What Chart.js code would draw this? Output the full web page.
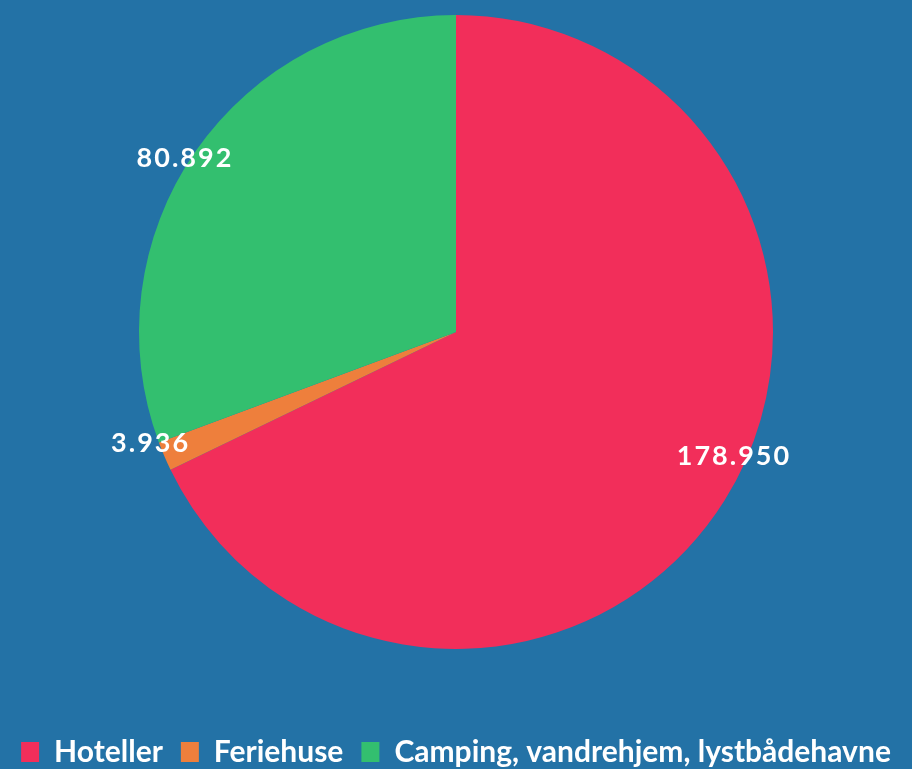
<!DOCTYPE html>
<html>
<head>
<meta charset="utf-8">
<script src="https://cdn.jsdelivr.net/npm/chart.js@4.4.1/dist/chart.umd.min.js"></script>
<style>
  html, body { margin: 0; padding: 0; background: #2372A6; overflow: hidden; width: 912px; height: 769px; }
  #wrap { position: relative; width: 912px; height: 777px; }
</style>
</head>
<body>
<div id="wrap"><canvas id="c"></canvas></div>
<script>
const categories = ['Hoteller', 'Feriehuse', 'Camping, vandrehjem, lystbådehavne'];
const values = [178950, 3936, 80892];
const valueLabels = ['178.950', '3.936', '80.892'];
const colors = ['#F22E5A', '#EE7F3C', '#33BF6F'];

const sliceLabels = {
  id: 'sliceLabels',
  afterDatasetsDraw(chart, args, opts) {
    const ctx = chart.ctx;
    const meta = chart.getDatasetMeta(0);
    ctx.save();
    ctx.font = opts.font;
    if ('letterSpacing' in ctx) ctx.letterSpacing = opts.letterSpacing;
    ctx.fillStyle = opts.color;
    ctx.textAlign = 'center';
    ctx.textBaseline = 'middle';
    meta.data.forEach((arc, i) => {
      const p = arc.getProps(['x', 'y', 'startAngle', 'endAngle', 'outerRadius'], true);
      const mid = (p.startAngle + p.endAngle) / 2 + (opts.angleShift[i] || 0) * Math.PI / 180;
      const r = p.outerRadius * (opts.radial[i] || 0.9);
      ctx.fillText(valueLabels[i], p.x + Math.cos(mid) * r, p.y + Math.sin(mid) * r);
    });
    ctx.restore();
  }
};

new Chart(document.getElementById('c'), {
  type: 'pie',
  data: {
    labels: categories,
    datasets: [{
      data: values,
      backgroundColor: colors,
      borderWidth: 0
    }]
  },
  plugins: [sliceLabels],
  options: {
    responsive: true,
    maintainAspectRatio: false,
    animation: false,
    layout: { padding: { top: 15, left: 0, right: 0, bottom: 0 } },
    plugins: {
      tooltip: { enabled: false },
      legend: {
        position: 'bottom',
        title: { display: true, text: '', padding: { top: 55.6, bottom: 0 }, font: { size: 12 } },
        labels: {
          color: '#FFFFFF',
          boxWidth: 18,
          boxHeight: 20,
          padding: 18,
          font: { family: 'Lato', size: 30, weight: 'bold' }
        }
      },
      sliceLabels: {
        font: 'bold 27px Lato',
        letterSpacing: '2px',
        color: '#FFFFFF',
        angleShift: [-8.1, 3.1, -2.1],
        radial: [0.96, 1.025, 1.016]
      }
    }
  }
});
</script>
</body>
</html>
